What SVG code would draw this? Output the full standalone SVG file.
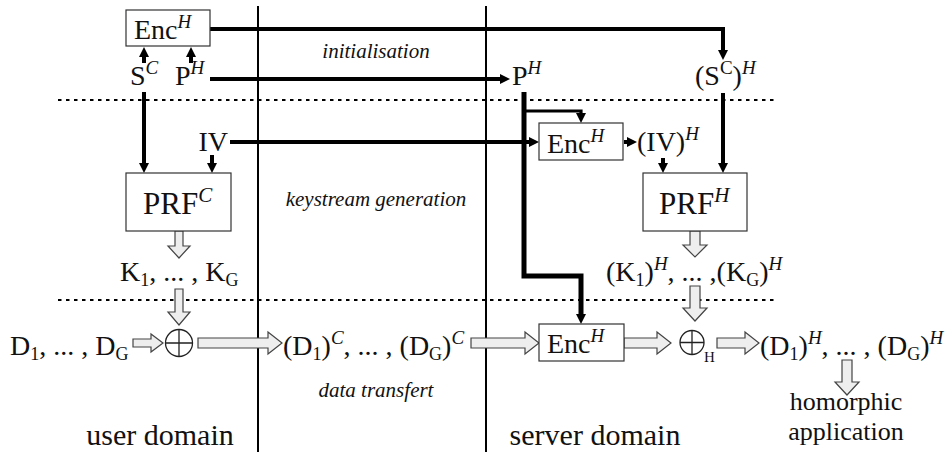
<svg xmlns="http://www.w3.org/2000/svg" width="948" height="452" viewBox="0 0 948 452">
<style>
text{font-family:"Liberation Serif","DejaVu Serif","Noto Serif","Times New Roman",Times,serif;fill:#111}
.m{font-size:28px}
.it{font-size:21px;font-style:italic}
.sup{font-size:19px;font-style:italic}
.supr{font-size:19px}
.sub{font-size:18px}
.box{fill:#fff;stroke:#333;stroke-width:1.2}
.blk{fill:none;stroke:#000;stroke-linejoin:miter}
.w4{stroke-width:4}
.w5{stroke-width:5}
.w3{stroke-width:3.2}
.div{stroke:#000;stroke-width:2}
.dot{stroke:#000;stroke-width:2;stroke-dasharray:3.5 4.5}
.ba{fill:#eee;stroke:#444;stroke-width:1.2;stroke-linejoin:miter}
.op{fill:#fff;stroke:#222;stroke-width:1.3}
</style>
<defs>
<marker id="ah" viewBox="0 0 10 10" refX="2" refY="5" markerWidth="10" markerHeight="10" markerUnits="userSpaceOnUse" orient="auto">
<path d="M0,0 L10,5 L0,10 z" fill="#000"/>
</marker>
</defs>

<g id="separators">
<line class="div" x1="258" y1="6" x2="258" y2="452"/>
<line class="div" x1="486" y1="6" x2="486" y2="452"/>
<line class="dot" x1="58" y1="100" x2="778" y2="100"/>
<line class="dot" x1="58" y1="300" x2="778" y2="300"/>
</g>

<g id="phase-labels">
<text class="it" x="376" y="58" text-anchor="middle">initialisation</text>
<text class="it" x="376" y="206" text-anchor="middle">keystream generation</text>
<text class="it" x="376" y="397" text-anchor="middle">data transfert</text>
<text class="m" x="160" y="445" text-anchor="middle" style="font-size:30px">user domain</text>
<text class="m" x="595" y="445" text-anchor="middle" style="font-size:30px">server domain</text>
</g>

<g id="connectors">
<path class="blk w4" d="M210,29 H723 V52" marker-end="url(#ah)"/>
<path class="blk w4" d="M144,63 V55" marker-end="url(#ah)"/>
<path class="blk w4" d="M191,63 V55" marker-end="url(#ah)"/>
<path class="blk w4" d="M210,79 H502" marker-end="url(#ah)"/>
<path class="blk w4" d="M144,92 V165" marker-end="url(#ah)"/>
<path class="blk w4" d="M230,142 H531" marker-end="url(#ah)"/>
<path class="blk w4" d="M212,155 V165" marker-end="url(#ah)"/>
<path class="blk w5" d="M524,92 V276 H581 V316" marker-end="url(#ah)"/>
<path class="blk w3" d="M524,111 H581 V115" marker-end="url(#ah)"/>
<path class="blk w4" d="M624,142 H629" marker-end="url(#ah)"/>
<path class="blk w4" d="M663,158 V165" marker-end="url(#ah)"/>
<path class="blk w4" d="M723,93 V165" marker-end="url(#ah)"/>
<path class="ba" d="M175,231 V246 H168 L179,258 L190,246 H183 V231 Z"/>
<path class="ba" d="M175,289 V312 H168 L179,325 L190,312 H183 V289 Z"/>
<path class="ba" d="M133,339 H151 V334 L163,343 L151,352 V347 H133 Z"/>
<path class="ba" d="M198,338 H268 V332 L282,343 L268,354 V348 H198 Z"/>
<path class="ba" d="M471,338 H525 V332 L539,343 L525,354 V348 H471 Z"/>
<path class="ba" d="M624,338 H657 V332 L671,343 L657,354 V348 H624 Z"/>
<path class="ba" d="M717,338 H745 V332 L759,343 L745,354 V348 H717 Z"/>
<path class="ba" d="M690,231 V245 H683 L695,257 L707,245 H700 V231 Z"/>
<path class="ba" d="M690,286 V308 H683 L695,321 L707,308 H700 V286 Z"/>
<path class="ba" d="M842,360 V382 H835 L847,395 L859,382 H852 V360 Z"/>
</g>

<g id="enc-user">
<rect class="box" x="126" y="10" width="84" height="36"/>
<text class="m" x="134" y="39">Enc<tspan class="sup" dy="-11">H</tspan></text>
</g>
<g id="sc">
<text class="m" x="130" y="85">S<tspan class="sup" dy="-11">C</tspan></text>
</g>
<g id="ph-user">
<text class="m" x="175" y="85">P<tspan class="sup" dy="-11">H</tspan></text>
</g>
<g id="ph-server">
<text class="m" x="512" y="85">P<tspan class="sup" dy="-11">H</tspan></text>
</g>
<g id="sch">
<text class="m" x="695" y="85">(S<tspan class="supr" dy="-11">C</tspan><tspan dy="11">)</tspan><tspan class="sup" dy="-11">H</tspan></text>
</g>
<g id="iv">
<text class="m" x="228" y="151" text-anchor="end">IV</text>
</g>
<g id="enc-iv">
<rect class="box" x="539" y="123" width="84" height="37"/>
<text class="m" x="547" y="153">Enc<tspan class="sup" dy="-11">H</tspan></text>
</g>
<g id="ivh">
<text class="m" x="637" y="151">(IV)<tspan class="sup" dy="-11">H</tspan></text>
</g>
<g id="prf-c">
<rect class="box" x="126" y="173" width="105" height="58"/>
<text class="m" x="143" y="214" style="font-size:31px">PRF<tspan class="sup" dy="-12" style="font-size:21px">C</tspan></text>
</g>
<g id="prf-h">
<rect class="box" x="643" y="173" width="104" height="58"/>
<text class="m" x="659" y="214" style="font-size:31px">PRF<tspan class="sup" dy="-12" style="font-size:21px">H</tspan></text>
</g>
<g id="k-user">
<text class="m" x="120" y="281">K<tspan class="sub" dy="5">1</tspan><tspan dy="-5">, ... , K</tspan><tspan class="sub" dy="5">G</tspan></text>
</g>
<g id="k-server">
<text class="m" x="606" y="281">(K<tspan class="sub" dy="5">1</tspan><tspan dy="-5">)</tspan><tspan class="sup" dy="-11">H</tspan><tspan dy="11">, ... ,(K</tspan><tspan class="sub" dy="5">G</tspan><tspan dy="-5">)</tspan><tspan class="sup" dy="-11">H</tspan></text>
</g>
<g id="d-user">
<text class="m" x="10" y="355">D<tspan class="sub" dy="5">1</tspan><tspan dy="-5">, ... , D</tspan><tspan class="sub" dy="5">G</tspan></text>
</g>
<g id="xor-user">
<circle class="op" cx="179" cy="343" r="13.5"/>
<path d="M165.5,343 H192.5 M179,329.5 V356.5" stroke="#222" stroke-width="1.3"/>
</g>
<g id="d-c">
<text class="m" x="283" y="355">(D<tspan class="sub" dy="5">1</tspan><tspan dy="-5">)</tspan><tspan class="sup" dy="-11">C</tspan><tspan dy="11">, ... , (D</tspan><tspan class="sub" dy="5">G</tspan><tspan dy="-5">)</tspan><tspan class="sup" dy="-11">C</tspan></text>
</g>
<g id="enc-data">
<rect class="box" x="539" y="324" width="85" height="37"/>
<text class="m" x="547" y="353">Enc<tspan class="sup" dy="-11">H</tspan></text>
</g>
<g id="xor-h">
<circle class="op" cx="692" cy="342.5" r="12"/>
<path d="M680,342.5 H704 M692,330.5 V354.5" stroke="#222" stroke-width="1.3"/>
<text class="sub" x="704" y="362" style="font-size:15px">H</text>
</g>
<g id="d-h">
<text class="m" x="760" y="355">(D<tspan class="sub" dy="5">1</tspan><tspan dy="-5">)</tspan><tspan class="sup" dy="-11">H</tspan><tspan dy="11">, ... , (D</tspan><tspan class="sub" dy="5">G</tspan><tspan dy="-5">)</tspan><tspan class="sup" dy="-11">H</tspan></text>
</g>
<g id="homomorphic-app">
<text class="m" x="846" y="410" text-anchor="middle" style="font-size:26px">homorphic</text>
<text class="m" x="846" y="440" text-anchor="middle" style="font-size:26px">application</text>
</g>
</svg>
